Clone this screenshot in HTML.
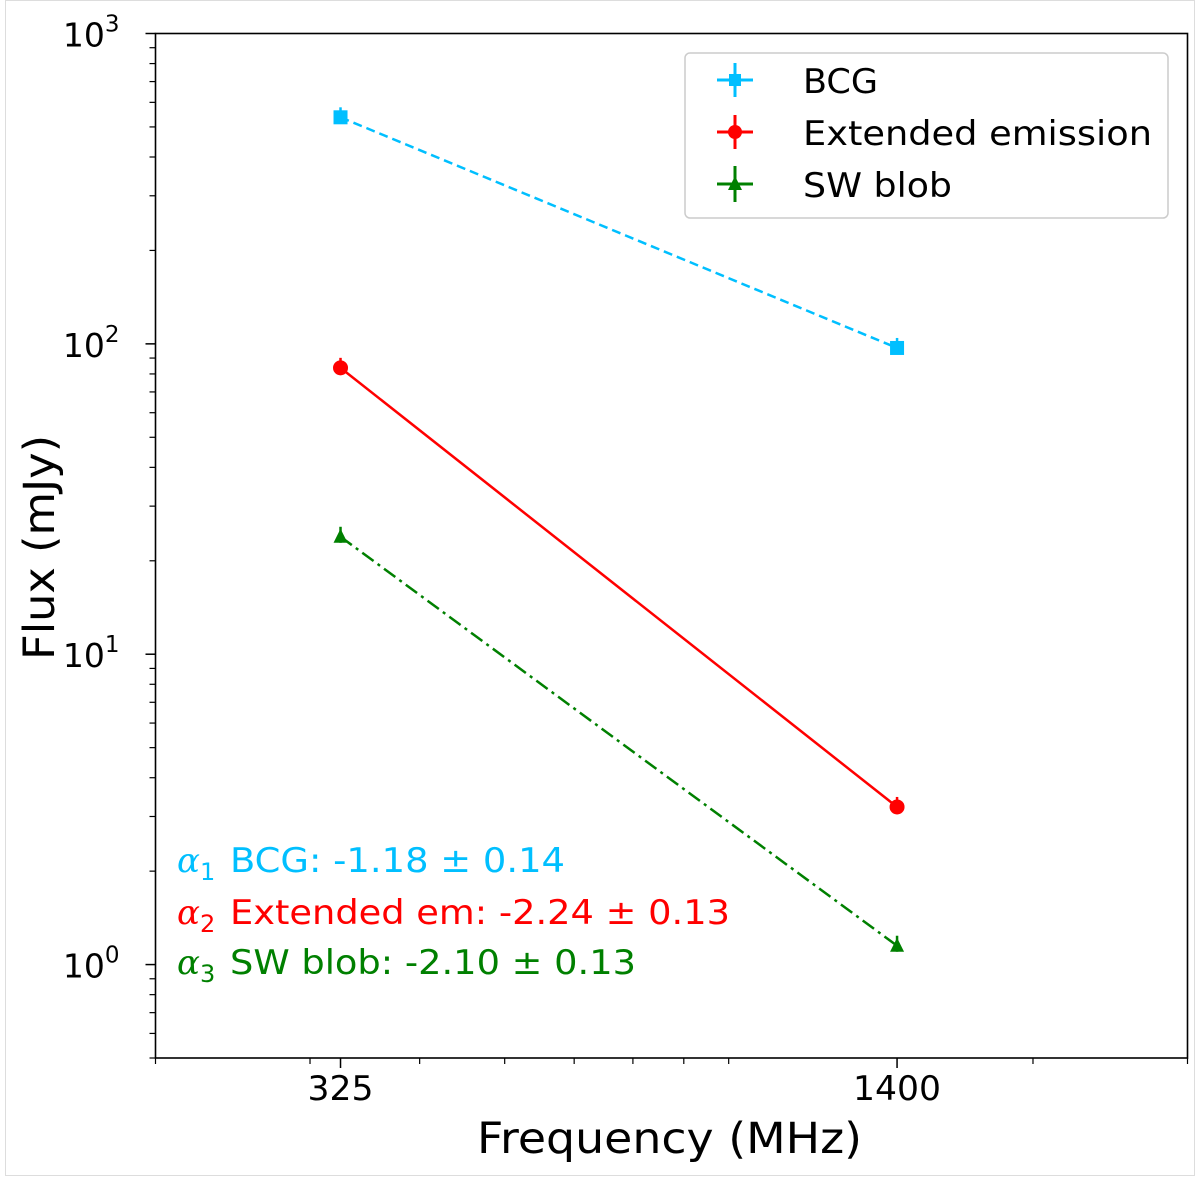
<!DOCTYPE html>
<html><head><meta charset="utf-8"><style>
body{margin:0;background:#fff}
svg{display:block;font-family:"DejaVu Sans","Liberation Sans",sans-serif}
</style></head><body>
<svg id="chart" width="1200" height="1177" viewBox="0 0 1200 1177">
<rect x="5.5" y="0.5" width="1189" height="1175" fill="#fff" stroke="#ddd"/>
<g id="series"></g>
<rect x="155.5" y="33.5" width="1032" height="1024.5" fill="none" stroke="#000" stroke-width="1.6"/>
<g id="axes"></g>
<text x="477" y="1153" font-size="43" textLength="385" lengthAdjust="spacingAndGlyphs">Frequency (MHz)</text>
<text transform="translate(54,660) rotate(-90)" font-size="43" textLength="225" lengthAdjust="spacingAndGlyphs">Flux (mJy)</text>
<g>
<rect x="685" y="53" width="483" height="165" rx="5" fill="#fff" stroke="#ccc" stroke-width="1.5"/>
<g>
<line x1="717" y1="80" x2="753" y2="80" stroke="#00bfff" stroke-width="3"/><line x1="735" y1="63" x2="735" y2="97" stroke="#00bfff" stroke-width="3"/><rect x="729" y="74" width="12" height="12" fill="#00bfff"/>
<text x="803" y="93" font-size="34" textLength="75" lengthAdjust="spacingAndGlyphs">BCG</text></g>
<g>
<line x1="717" y1="132" x2="753" y2="132" stroke="red" stroke-width="3"/><line x1="735" y1="115" x2="735" y2="149" stroke="red" stroke-width="3"/><circle cx="735" cy="132" r="7" fill="red"/>
<text x="803" y="145" font-size="34" textLength="349" lengthAdjust="spacingAndGlyphs">Extended emission</text></g>
<g>
<line x1="717" y1="184" x2="753" y2="184" stroke="green" stroke-width="3"/><line x1="735" y1="166" x2="735" y2="202" stroke="green" stroke-width="3"/><polygon points="735,176 742,190 728,190" fill="green"/>
<text x="803" y="197" font-size="34" textLength="149" lengthAdjust="spacingAndGlyphs">SW blob</text></g>
</g>
<g font-size="34">
<g fill="#00bfff"><text x="177" y="872" font-style="italic" font-family="DejaVu Serif,serif">α</text><text x="200" y="880" font-size="24">1</text><text x="230" y="872" textLength="335" lengthAdjust="spacingAndGlyphs">BCG: -1.18 ± 0.14</text></g>
<g fill="red"><text x="177" y="924" font-style="italic" font-family="DejaVu Serif,serif">α</text><text x="200" y="932" font-size="24">2</text><text x="230" y="924" textLength="500" lengthAdjust="spacingAndGlyphs">Extended em: -2.24 ± 0.13</text></g>
<g fill="green"><text x="177" y="974" font-style="italic" font-family="DejaVu Serif,serif">α</text><text x="200" y="982" font-size="24">3</text><text x="230" y="974" textLength="406" lengthAdjust="spacingAndGlyphs">SW blob: -2.10 ± 0.13</text></g>
</g>
</svg>
<script>
const freqs = [325, 1400];
const bcgFlux = [537, 97];
const extFlux = [83.7, 3.22];
const swFlux = [23.9, 1.15];
const xTickLabels = ["325", "1400"];
const yTickExps = [0, 1, 2, 3];

const NS = "http://www.w3.org/2000/svg";
const X0 = 155.5, X1 = 1187.5, Y0 = 1058, Y1 = 33.5;
const xmin = 200, xmax = 3000, ymin = 0.5, ymax = 1000;
function sx(v){return X0 + (Math.log10(v)-Math.log10(xmin))/(Math.log10(xmax)-Math.log10(xmin))*(X1-X0);}
function sy(v){return Y0 - (Math.log10(v)-Math.log10(ymin))/(Math.log10(ymax)-Math.log10(ymin))*(Y0-Y1);}
function mk(tag, attrs, parent){const e=document.createElementNS(NS,tag);for(const k in attrs)e.setAttribute(k,attrs[k]);parent.appendChild(e);return e;}
const axes = document.getElementById('axes');
const series = document.getElementById('series');

freqs.forEach((f,i)=>{
  const t = mk('line',{x1:sx(f),x2:sx(f),y1:Y0,y2:Y0+10,stroke:'#000','stroke-width':1.5},axes);
  
  
  const l = mk('text',{x:sx(f),y:Y0+42,'font-size':34,'text-anchor':'middle',textLength:xTickLabels[i].length*22,lengthAdjust:'spacingAndGlyphs'},axes);
  l.textContent = xTickLabels[i];
  
  
});
[200,300,400,500,600,700,800,900,2000,3000].forEach(f=>{
  const t = mk('line',{x1:sx(f),x2:sx(f),y1:Y0,y2:Y0+6,stroke:'#000','stroke-width':1.2},axes);
  
  
});
yTickExps.forEach(e=>{
  const v = Math.pow(10,e);
  const t = mk('line',{x1:X0-10,x2:X0,y1:sy(v),y2:sy(v),stroke:'#000','stroke-width':1.5},axes);
  
  
  const l = mk('text',{x:X0-36,y:sy(v)+13,'font-size':33,'text-anchor':'end'},axes);
  
  
  l.innerHTML = '10<tspan font-size="23" dy="-15">'+e+'</tspan>';
});
for(let e=-1;e<3;e++){for(let m=2;m<10;m++){const v=m*Math.pow(10,e);if(v<ymin||v>ymax)continue;
  const t = mk('line',{x1:X0-6,x2:X0,y1:sy(v),y2:sy(v),stroke:'#000','stroke-width':1.2},axes);
  
  
}}
function drawSeries(vals,color,dash,marker,name){
  const p = mk('polyline',{points:freqs.map((f,i)=>sx(f)+','+sy(vals[i])).join(' '),fill:'none',stroke:color,'stroke-width':2.5,'stroke-dasharray':dash},series);
  
  
  freqs.forEach((f,i)=>{
    const x=sx(f),y=sy(vals[i]);
    let m;
    if(marker==='s') m=mk('rect',{x:x-7,y:y-7,width:14,height:14,fill:color},series);
    else if(marker==='o') m=mk('circle',{cx:x,cy:y,r:7.5,fill:color},series);
    else m=mk('polygon',{points:`${x},${y-8} ${x+7},${y+6} ${x-7},${y+6}`,fill:color},series);
    
    
    const eb = mk('line',{x1:x,x2:x,y1:y-10,y2:y+6,stroke:color,'stroke-width':2.5},series);
    
    
  });
}
drawSeries(bcgFlux,'#00bfff','9 5','s','bcg');
drawSeries(extFlux,'red','none','o','extended-emission');
drawSeries(swFlux,'green','14 5 3 5','^','sw-blob');
</script>
</body></html>
